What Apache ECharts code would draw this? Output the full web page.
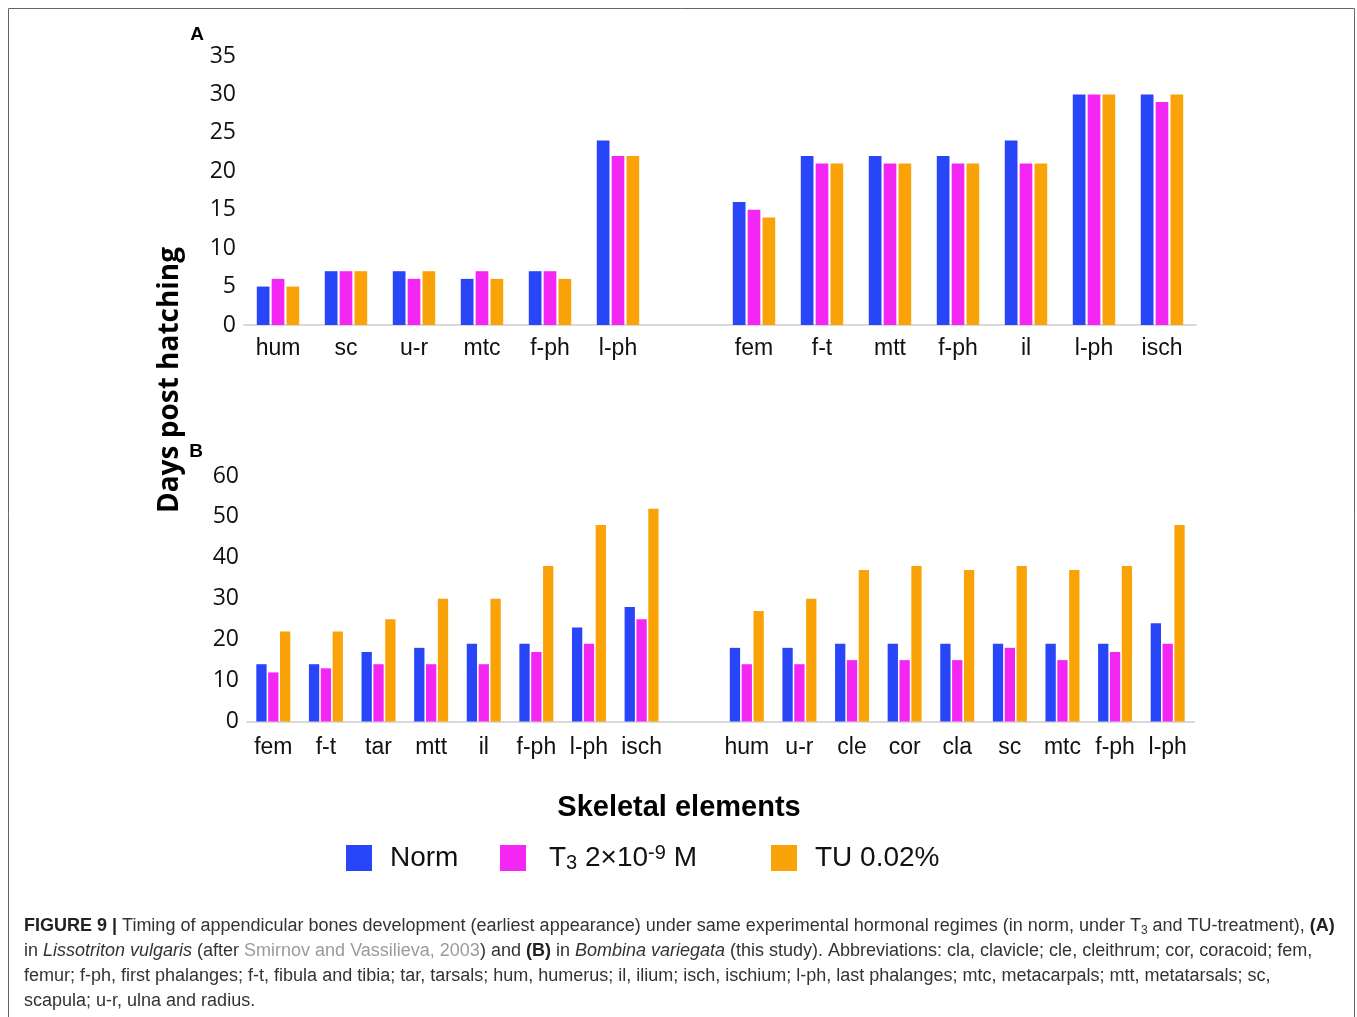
<!DOCTYPE html>
<html>
<head>
<meta charset="utf-8">
<script src="https://cdn.jsdelivr.net/npm/echarts@6/dist/echarts.min.js"></script>
<style>
html,body{margin:0;padding:0;background:#fff;}
#c{width:1357px;height:1017px;}
</style>
</head>
<body>
<div id="c"></div>
<script>
// ---------- Data ----------
// Panel A (Lissotriton vulgaris)
const catsA1 = ['hum','sc','u-r','mtc','f-ph','l-ph'];
const catsA2 = ['fem','f-t','mtt','f-ph','il','l-ph','isch'];
const normA1 = [5,7,7,6,7,24];
const t3A1   = [6,7,6,7,7,22];
const tuA1   = [5,7,7,6,6,22];
const normA2 = [16,22,22,22,24,30,30];
const t3A2   = [15,21,21,21,21,30,29];
const tuA2   = [14,21,21,21,21,30,30];
// Panel B (Bombina variegata)
const catsB1 = ['fem','f-t','tar','mtt','il','f-ph','l-ph','isch'];
const catsB2 = ['hum','u-r','cle','cor','cla','sc','mtc','f-ph','l-ph'];
const normB1 = [14,14,17,18,19,19,23,28];
const t3B1   = [12,13,14,14,14,17,19,25];
const tuB1   = [22,22,25,30,30,38,48,52];
const normB2 = [18,18,19,19,19,19,19,19,24];
const t3B2   = [14,14,15,15,15,18,15,17,19];
const tuB2   = [27,30,37,38,37,38,37,38,48];
// Axis ticks
const yTicksA = {min:0, max:35, interval:5};
const yTicksB = {min:0, max:60, interval:10};
const seriesNames = ['Norm','T3','TU'];

// ---------- Build ----------
const join = (a, b) => a.concat([null], b);
const catsA = catsA1.concat([''], catsA2);
const catsB = catsB1.concat([''], catsB2);
const colors = {Norm:'#2945F8', T3:'#F426F3', TU:'#FAA308'};

const sans = '"Liberation Sans", Arial, sans-serif';
const catLabel = (m) => ({interval:0, fontSize:23, color:'#111', margin:m, fontFamily:sans});
const valLabel = {fontSize:23, color:'#111', margin:8, fontFamily:'"Open Sans", sans-serif'};

function bar(name, data, gi, bw, gap){
  return {
    type:'bar', name:name, xAxisIndex:gi, yAxisIndex:gi, data:data,
    barWidth:bw, barGap:gap,
    itemStyle:{color:colors[name]},
    emphasis:{disabled:true}, animation:false
  };
}

const legendRich = {
  a:{fontSize:28, lineHeight:30, color:'#111', fontFamily:sans},
  s:{fontSize:20, lineHeight:12, verticalAlign:'bottom', color:'#111', fontFamily:sans},
  p:{fontSize:20, lineHeight:4, verticalAlign:'top', color:'#111', fontFamily:sans}
};
function legendItem(name, left, top, padLeft, fmt){
  return {
    data:[name], left:left, top:top, formatter:()=>fmt,
    icon:'rect', itemWidth:26, itemHeight:26, selectedMode:false, padding:0,
    itemStyle:{borderWidth:0},
    textStyle:{fontSize:28, color:'#111', fontFamily:sans, padding:[0,0,0,padLeft], rich:legendRich}
  };
}

const capRich = {
  b:{fontWeight:'bold', fontSize:18, lineHeight:21, fill:'#222', fontFamily:sans},
  i:{fontStyle:'italic', fontSize:18, lineHeight:21, fill:'#333', fontFamily:sans},
  g:{fontSize:18, lineHeight:21, fill:'#9a9a9a', fontFamily:sans},
  n:{fontSize:18, lineHeight:21, fill:'#333', fontFamily:sans},
  s:{fontSize:12, lineHeight:8, verticalAlign:'bottom', fill:'#333', fontFamily:sans}
};
const capLines = [
  '{b|FIGURE 9 |}{n| Timing of appendicular bones development (earliest appearance) under same experimental hormonal regimes (in norm, under T}{s|3}{n| and TU-treatment), }{b|(A)}',
  '{n|in }{i|Lissotriton vulgaris}{n| (after }{g|Smirnov and Vassilieva, 2003}{n|) and }{b|(B)}{n| in }{i|Bombina variegata}{n| (this study). Abbreviations: cla, clavicle; cle, cleithrum; cor, coracoid; fem,}',
  '{n|femur; f-ph, first phalanges; f-t, fibula and tibia; tar, tarsals; hum, humerus; il, ilium; isch, ischium; l-ph, last phalanges; mtc, metacarpals; mtt, metatarsals; sc,}',
  '{n|scapula; u-r, ulna and radius.}'
];
const capY = [926, 951, 976, 1001];

const option = {
  backgroundColor:'#fff',
  animation:false,
  grid:[
    {left:244, right:161, top:56, height:269, containLabel:false},
    {left:247, right:163, top:476, height:245.5, containLabel:false}
  ],
  xAxis:[
    {type:'category', gridIndex:0, data:catsA, axisTick:{show:false},
     axisLine:{lineStyle:{color:'#d9d9d9', width:2}}, axisLabel:catLabel(12)},
    {type:'category', gridIndex:1, data:catsB, axisTick:{show:false},
     axisLine:{lineStyle:{color:'#d9d9d9', width:2}}, axisLabel:catLabel(15)}
  ],
  yAxis:[
    {type:'value', gridIndex:0, min:yTicksA.min, max:yTicksA.max, interval:yTicksA.interval,
     splitLine:{show:false}, axisLine:{show:false}, axisTick:{show:false}, axisLabel:valLabel},
    {type:'value', gridIndex:1, min:yTicksB.min, max:yTicksB.max, interval:yTicksB.interval,
     splitLine:{show:false}, axisLine:{show:false}, axisTick:{show:false}, axisLabel:valLabel}
  ],
  legend:[
    legendItem('Norm', 346, 844, 13, '{a|Norm}'),
    legendItem('T3', 500, 843, 18, '{a|T}{s|3}{a| 2×10}{p|-9}{a| M}'),
    legendItem('TU', 771, 844, 13, '{a|TU 0.02%}')
  ],
  series:[
    bar('Norm', join(normA1, normA2), 0, 12.7, '17%'),
    bar('T3',   join(t3A1, t3A2),     0, 12.7, '17%'),
    bar('TU',   join(tuA1, tuA2),     0, 12.7, '17%'),
    bar('Norm', join(normB1, normB2), 1, 10.3, '15%'),
    bar('T3',   join(t3B1, t3B2),     1, 10.3, '15%'),
    bar('TU',   join(tuB1, tuB2),     1, 10.3, '15%')
  ],
  graphic:[
    {type:'rect', silent:true, shape:{x:8.5, y:8.5, width:1346, height:1100},
     style:{fill:'none', stroke:'#666', lineWidth:1}},
    {type:'text', x:197, y:35, style:{text:'A', align:'center', verticalAlign:'middle',
     font:'bold 19px "Liberation Sans", Arial, sans-serif', fill:'#000'}},
    {type:'text', x:196, y:452, style:{text:'B', align:'center', verticalAlign:'middle',
     font:'bold 19px "Liberation Sans", Arial, sans-serif', fill:'#000'}},
    {type:'text', x:170, y:380, rotation:Math.PI/2, style:{text:'Days post hatching', align:'center', verticalAlign:'middle',
     font:'bold 28px "Open Sans", sans-serif', fill:'#000'}},
    {type:'text', x:679, y:808, style:{text:'Skeletal elements', align:'center', verticalAlign:'middle',
     font:'bold 29px "Liberation Sans", Arial, sans-serif', fill:'#000'}}
  ].concat(capLines.map((t, k) => ({
    type:'text', x:24, y:capY[k],
    style:{text:t, rich:capRich, align:'left', verticalAlign:'middle', fontSize:18, fontFamily:sans, fill:'#333'}
  })))
};

const chart = echarts.init(document.getElementById('c'), null, {renderer:'canvas'});
chart.setOption(option);
</script>
</body>
</html>
